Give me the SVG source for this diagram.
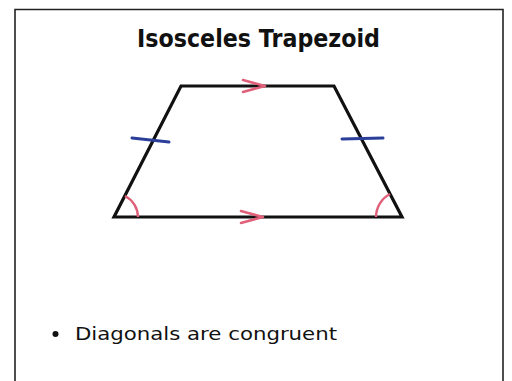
<svg xmlns="http://www.w3.org/2000/svg" width="512" height="381" viewBox="0 0 512 381">
<style>
.frame{fill:none;stroke:#222;stroke-width:1.6}
.edge{fill:none;stroke:#111;stroke-width:3.2;stroke-linejoin:miter}
.par{fill:none;stroke:#e0607a;stroke-width:2.6;stroke-linecap:round;stroke-linejoin:round}
.tick{fill:none;stroke:#2b3f9a;stroke-width:3;stroke-linecap:round}
.ang{fill:none;stroke:#e0607a;stroke-width:2.4}
.title{font-family:"DejaVu Sans","Liberation Sans",sans-serif;font-weight:bold;font-size:25px;fill:#111}
.body{font-family:"DejaVu Sans","Liberation Sans",sans-serif;font-size:18px;fill:#111}
</style>
<rect x="0" y="0" width="512" height="381" fill="#fff"/>
<path class="frame" d="M15,390 V9.5 H503 V390"/>
<text class="title" x="137" y="47" textLength="243" lengthAdjust="spacingAndGlyphs">Isosceles Trapezoid</text>
<g id="trapezoid">
<polygon class="edge" points="181,86 334,86 402,217 114,217"/>
</g>
<g id="marks">
<path class="par" d="M243,80 L265,86 L243,92"/>
<path class="par" d="M241,211 L263,217 L241,223"/>
<path class="tick" d="M132,138 L169,142"/>
<path class="tick" d="M342,139 L383,138"/>
<path class="ang" d="M138,217 A24,24 0 0 0 125,196"/>
<path class="ang" d="M376,217 A26,26 0 0 1 390,194"/>
</g>
<circle cx="55.5" cy="334" r="3" fill="#111"/>
<text class="body" x="75" y="340" textLength="262" lengthAdjust="spacingAndGlyphs">Diagonals are congruent</text>
</svg>
